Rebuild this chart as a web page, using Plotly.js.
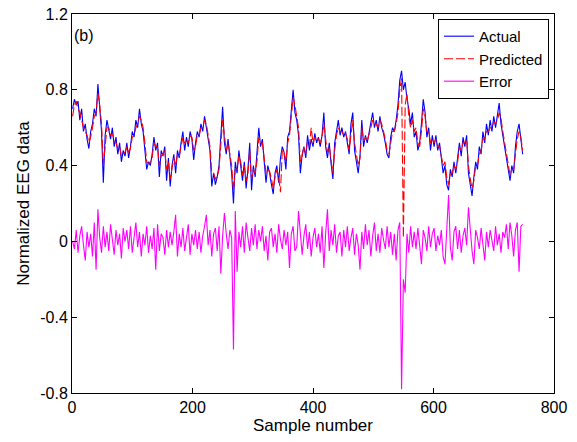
<!DOCTYPE html>
<html>
<head>
<meta charset="utf-8">
<script src="https://cdn.plot.ly/plotly-3.0.1.min.js"></script>
<style>html,body{margin:0;padding:0;background:#fff;}#chart{width:577px;height:442px;}</style>
</head>
<body>
<div id="chart"></div>
<script>
// Samples are taken every 3rd sample number, starting at 1
var sampleStart = 1;
var sampleStep = 3;

var actual = [
0.70,0.75,0.72,0.74,0.64,0.70,0.58,0.62,0.54,0.49,
0.58,0.62,0.70,0.66,0.83,0.68,0.58,0.31,0.56,0.64,
0.58,0.54,0.60,0.50,0.55,0.46,0.52,0.42,0.48,0.45,
0.52,0.44,0.50,0.58,0.55,0.64,0.60,0.70,0.62,0.58,
0.48,0.38,0.42,0.40,0.46,0.55,0.48,0.52,0.34,0.48,
0.45,0.50,0.32,0.44,0.29,0.40,0.46,0.36,0.48,0.44,
0.52,0.58,0.48,0.55,0.50,0.58,0.54,0.43,0.52,0.58,
0.55,0.62,0.58,0.66,0.60,0.55,0.48,0.29,0.36,0.30,
0.34,0.40,0.55,0.71,0.52,0.46,0.54,0.44,0.36,0.20,
0.42,0.36,0.48,0.40,0.32,0.42,0.28,0.38,0.52,0.27,
0.40,0.34,0.45,0.60,0.50,0.54,0.42,0.31,0.40,0.36,
0.30,0.25,0.36,0.40,0.31,0.44,0.50,0.47,0.38,0.55,
0.58,0.70,0.80,0.68,0.64,0.56,0.36,0.46,0.50,0.44,
0.56,0.48,0.54,0.50,0.57,0.52,0.55,0.50,0.56,0.68,
0.50,0.44,0.52,0.41,0.33,0.52,0.58,0.64,0.56,0.60,
0.55,0.58,0.52,0.46,0.62,0.68,0.48,0.42,0.36,0.45,
0.64,0.50,0.56,0.52,0.58,0.62,0.68,0.60,0.64,0.58,
0.66,0.60,0.57,0.52,0.46,0.44,0.55,0.60,0.58,0.64,
0.72,0.85,0.90,0.80,0.84,0.75,0.70,0.62,0.68,0.55,
0.58,0.48,0.52,0.62,0.75,0.68,0.55,0.60,0.48,0.56,
0.50,0.56,0.48,0.52,0.42,0.36,0.40,0.30,0.27,0.38,
0.34,0.42,0.36,0.44,0.52,0.45,0.55,0.50,0.56,0.36,
0.30,0.24,0.34,0.42,0.38,0.50,0.46,0.58,0.52,0.62,
0.56,0.64,0.58,0.66,0.60,0.68,0.73,0.62,0.56,0.50,
0.44,0.38,0.32,0.40,0.36,0.50,0.58,0.62,0.52,0.46
];

var predicted = [
0.66,0.72,0.74,0.70,0.68,0.64,0.60,0.58,0.56,0.52,
0.55,0.60,0.66,0.68,0.78,0.72,0.62,0.40,0.50,0.60,
0.60,0.56,0.57,0.53,0.52,0.49,0.50,0.45,0.46,0.47,
0.50,0.47,0.49,0.55,0.56,0.60,0.62,0.66,0.64,0.60,
0.52,0.42,0.41,0.42,0.44,0.52,0.50,0.50,0.40,0.45,
0.46,0.48,0.38,0.42,0.33,0.38,0.44,0.40,0.46,0.45,
0.50,0.55,0.52,0.53,0.52,0.56,0.55,0.48,0.50,0.56,
0.56,0.60,0.60,0.64,0.62,0.57,0.50,0.36,0.36,0.33,
0.34,0.38,0.50,0.64,0.56,0.48,0.52,0.46,0.40,0.27,
0.38,0.38,0.45,0.42,0.35,0.40,0.32,0.36,0.48,0.33,
0.38,0.36,0.42,0.55,0.52,0.52,0.45,0.36,0.38,0.37,
0.33,0.28,0.34,0.38,0.34,0.26,0.48,0.47,0.42,0.52,
0.56,0.66,0.76,0.72,0.66,0.60,0.42,0.45,0.50,0.46,
0.53,0.50,0.60,0.52,0.55,0.53,0.54,0.52,0.55,0.62,
0.54,0.47,0.50,0.44,0.36,0.48,0.56,0.60,0.58,0.58,
0.56,0.57,0.54,0.48,0.58,0.64,0.52,0.45,0.40,0.44,
0.60,0.53,0.55,0.53,0.56,0.60,0.64,0.62,0.62,0.60,
0.64,0.62,0.58,0.54,0.48,0.46,0.52,0.58,0.58,0.62,
0.68,0.80,0.86,0.02,0.72,0.78,0.66,0.60,0.64,0.58,
0.60,0.52,0.50,0.58,0.70,0.66,0.58,0.58,0.52,0.54,
0.52,0.54,0.50,0.50,0.45,0.40,0.42,0.34,0.30,0.36,
0.36,0.40,0.38,0.42,0.50,0.48,0.52,0.52,0.54,0.40,
0.33,0.28,0.32,0.40,0.40,0.46,0.48,0.54,0.54,0.58,
0.58,0.60,0.60,0.63,0.62,0.64,0.68,0.65,0.58,0.52,
0.46,0.40,0.35,0.38,0.38,0.46,0.54,0.58,0.55,0.48
];

var errorVals = [
0.00,-0.04,0.06,-0.06,0.03,0.08,-0.02,-0.10,0.05,-0.03,
0.04,-0.08,0.10,-0.15,0.17,0.02,-0.06,0.08,-0.03,0.05,
-0.05,0.09,0.01,-0.07,0.06,-0.02,0.04,-0.09,0.07,0.00,
0.06,-0.04,0.08,-0.06,0.02,0.10,-0.03,0.05,-0.08,0.04,
-0.02,0.08,-0.06,0.03,-0.04,0.07,-0.15,0.09,-0.05,0.04,
0.02,-0.07,0.06,-0.03,0.05,-0.02,0.05,0.14,-0.08,0.04,
-0.03,0.07,-0.05,0.02,0.09,-0.07,0.04,-0.02,0.06,-0.04,
0.05,-0.06,0.03,0.08,0.14,-0.02,0.06,-0.08,0.04,0.07,
-0.05,0.08,-0.17,0.03,0.15,0.04,-0.04,0.06,0.02,-0.57,
0.16,-0.16,0.05,-0.03,0.08,-0.06,0.10,0.02,-0.05,0.07,
-0.02,0.09,-0.04,0.06,0.00,0.08,-0.05,0.03,-0.10,0.05,
0.07,-0.03,0.04,-0.06,0.09,0.01,-0.04,0.06,-0.02,0.05,
-0.14,0.04,0.08,-0.05,-0.03,0.16,0.06,-0.07,0.03,0.09,
-0.04,0.05,-0.08,0.02,0.07,-0.03,0.04,-0.06,0.08,-0.14,
0.04,0.17,-0.05,0.06,-0.02,0.09,-0.06,0.03,0.05,-0.08,
0.06,-0.03,0.08,-0.05,0.02,0.07,-0.07,0.04,-0.02,-0.15,
0.05,-0.04,0.09,-0.02,0.06,-0.08,0.03,0.10,-0.05,0.04,
-0.06,0.07,0.01,-0.04,0.08,-0.03,0.05,-0.07,0.04,-0.10,
0.06,0.10,-0.78,-0.20,-0.27,0.04,-0.06,0.08,-0.03,0.05,
-0.04,0.07,-0.02,-0.12,0.06,0.02,-0.05,0.08,-0.03,0.04,
0.07,-0.05,0.03,-0.02,0.06,-0.08,-0.12,0.04,0.245,-0.03,
-0.10,0.05,0.08,-0.04,0.06,-0.06,0.03,0.07,-0.02,0.18,
0.04,-0.05,-0.12,0.06,0.02,-0.04,0.07,-0.02,-0.10,0.05,
-0.03,0.06,0.01,-0.05,0.08,-0.02,0.04,-0.06,0.05,0.02,
0.09,-0.04,0.10,0.03,-0.08,0.06,0.10,-0.16,0.08,0.09
];

var seriesNames = ["Actual", "Predicted", "Error"];
var xTickVals = [0, 200, 400, 600, 800];
var xTickText = ["0", "200", "400", "600", "800"];
var yTickVals = [-0.8, -0.4, 0, 0.4, 0.8, 1.2];
var yTickText = ["-0.8", "-0.4", "0", "0.4", "0.8", "1.2"];

var samples = actual.map(function (_, i) { return sampleStart + i * sampleStep; });

var FONT = "Liberation Sans, Arial, Helvetica, sans-serif";

var traces = [
  {x: samples, y: actual, name: seriesNames[0], type: "scatter", mode: "lines",
   line: {color: "#0000ff", width: 1.1}},
  {x: samples, y: predicted, name: seriesNames[1], type: "scatter", mode: "lines",
   line: {color: "#ff0000", width: 1.1, dash: "9px,3px"}},
  {x: samples, y: errorVals, name: seriesNames[2], type: "scatter", mode: "lines",
   line: {color: "#ff00ff", width: 1.1}}
];

var axisCommon = {
  showline: true, linecolor: "#000", linewidth: 1, mirror: "ticks",
  ticks: "inside", ticklen: 5, tickcolor: "#000", tickwidth: 1,
  showgrid: false, zeroline: false,
  tickfont: {family: FONT, size: 16, color: "#000"}
};

var layout = {
  width: 577, height: 442,
  paper_bgcolor: "#fff", plot_bgcolor: "#fff",
  margin: {l: 72, r: 23, t: 14, b: 49},
  showlegend: true,
  font: {family: FONT, size: 16, color: "#000"},
  xaxis: Object.assign({}, axisCommon, {
    range: [0, 800], tickmode: "array", tickvals: xTickVals, ticktext: xTickText,
    title: {text: "Sample number", font: {family: FONT, size: 17, color: "#000"}, standoff: 2},
    automargin: false
  }),
  yaxis: Object.assign({}, axisCommon, {
    range: [-0.8, 1.2], tickmode: "array", tickvals: yTickVals, ticktext: yTickText,
    title: {text: "Normalized EEG data", font: {family: FONT, size: 17, color: "#000"}, standoff: 6},
    automargin: false
  }),
  legend: {
    x: 0.9896, y: 0.987, xanchor: "right", yanchor: "top",
    bgcolor: "#fff", bordercolor: "#000", borderwidth: 1,
    font: {family: FONT, size: 15, color: "#000"},
    tracegroupgap: 0
  },
  annotations: [{
    text: "(b)", xref: "paper", yref: "paper", x: 0, y: 0.942,
    xanchor: "left", yanchor: "middle", showarrow: false, xshift: 0,
    font: {family: FONT, size: 16, color: "#000"}
  }]
};

Plotly.newPlot("chart", traces, layout, {displayModeBar: false, staticPlot: true});
</script>
</body>
</html>
